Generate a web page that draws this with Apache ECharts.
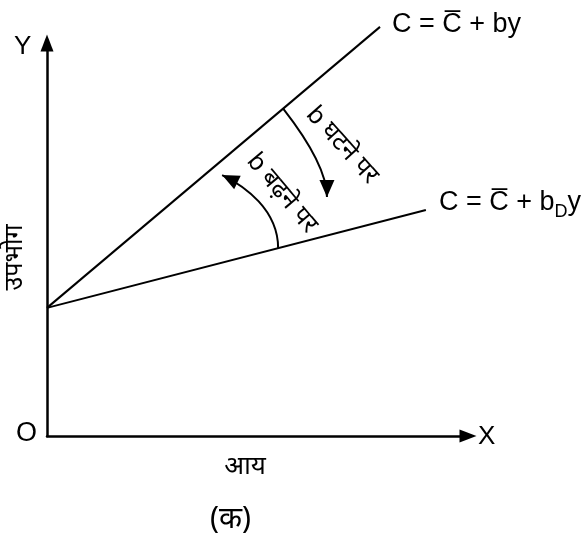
<!DOCTYPE html>
<html>
<head>
<meta charset="utf-8">
<title>उपभोग फलन</title>
<script src="https://cdn.jsdelivr.net/npm/echarts@6/dist/echarts.min.js"></script>
<style>html,body{margin:0;padding:0;background:#fff;}</style>
</head>
<body>
<div id="main" style="width:584px;height:536px;"></div>
<script type="text/javascript">
// values (x = आय, y = उपभोग, both on a 0-100 scale)
var lineHigh = [[0, 32.6], [79.1, 104.1]];   // C = C + by
var lineLow = [[0, 32.6], [90.0, 57.5]];     // C = C + bD y
// curved arrows, bezier control points in data units
var arcDown = [[56.1, 83.3], [66.5, 69.0], [66.5, 60.8]];
var arcUp = [[54.9, 47.8], [54.9, 57.5], [47.0, 63.6], [41.6, 66.4]];
var noteDown = [70.1, 74.0];
var noteUp = [55.8, 61.8];
var noteDownText = 'b घटने पर';
var noteUpText = 'b बढ़ने पर';

var latin = '"Liberation Sans", Arial, sans-serif';
var deva = '"Noto Sans", "DejaVu Sans", sans-serif';

var myChart = echarts.init(document.getElementById('main'));

// arrow head: tip at p, pointing along p - q
function arrowHead(p, q, len, half) {
    var dx = p[0] - q[0], dy = p[1] - q[1];
    var d = Math.sqrt(dx * dx + dy * dy) || 1;
    dx /= d; dy /= d;
    var bx = p[0] - dx * len, by = p[1] - dy * len;
    return {
        type: 'polygon',
        shape: {points: [p, [bx - dy * half, by + dx * half], [bx + dy * half, by - dx * half]]},
        style: {fill: '#000'}
    };
}

function renderNotes(params, api) {
    var a = arcDown.map(function (p) { return api.coord(p); });
    var b = arcUp.map(function (p) { return api.coord(p); });
    var t1 = api.coord(noteDown), t2 = api.coord(noteUp);
    var stroke = {stroke: '#000', lineWidth: 2, fill: null};
    return {
        type: 'group',
        children: [
            {type: 'bezierCurve', shape: {x1: a[0][0], y1: a[0][1], cpx1: a[1][0], cpy1: a[1][1], x2: a[2][0], y2: a[2][1]}, style: stroke},
            arrowHead(a[2], a[1], 17, 7.5),
            {type: 'bezierCurve', shape: {x1: b[0][0], y1: b[0][1], cpx1: b[1][0], cpy1: b[1][1], cpx2: b[2][0], cpy2: b[2][1], x2: b[3][0], y2: b[3][1]}, style: stroke},
            arrowHead(b[3], b[2], 17, 7.5),
            {type: 'text', x: t1[0], y: t1[1], rotation: -48 * Math.PI / 180,
                style: {text: noteDownText, fontSize: 25, fontFamily: deva, fill: '#000', align: 'center', verticalAlign: 'middle'}},
            {type: 'text', x: t2[0], y: t2[1], rotation: -50 * Math.PI / 180,
                style: {text: noteUpText, fontSize: 25, fontFamily: deva, fill: '#000', align: 'center', verticalAlign: 'middle'}}
        ]
    };
}

var eqRich = {
    m: {fontSize: 27, fontFamily: latin, color: '#000', lineHeight: 34},
    s: {fontSize: 18, fontFamily: latin, color: '#000', lineHeight: 36, verticalAlign: 'bottom'}
};

var option = {
    backgroundColor: '#fff',
    animation: false,
    grid: {left: 47, right: 116, top: 43, bottom: 100, containLabel: false, outerBoundsMode: 'none'},
    xAxis: {
        type: 'value', min: 0, max: 100,
        name: 'आय', nameLocation: 'middle', nameGap: 18, nameMoveOverlap: false,
        nameTextStyle: {fontSize: 26, fontFamily: deva, color: '#000', padding: [0, 25, 0, 0]},
        axisLine: {show: true, lineStyle: {color: '#000', width: 2.5}, symbol: ['none', 'triangle'], symbolSize: [13, 17]},
        axisTick: {show: false}, axisLabel: {show: false}, splitLine: {show: false}
    },
    yAxis: {
        type: 'value', min: 0, max: 100,
        name: 'उपभोग', nameLocation: 'middle', nameGap: 20, nameRotate: 90, nameMoveOverlap: false,
        nameTextStyle: {fontSize: 25, fontFamily: deva, color: '#000', padding: [0, 36, 0, 0]},
        axisLine: {show: true, lineStyle: {color: '#000', width: 2.5}, symbol: ['none', 'triangle'], symbolSize: [13, 17]},
        axisTick: {show: false}, axisLabel: {show: false}, splitLine: {show: false}
    },
    graphic: [
        {type: 'text', left: 14, top: 34, style: {text: 'Y', fontSize: 26, fontFamily: latin, fill: '#000'}},
        {type: 'text', left: 16, top: 420, style: {text: 'O', fontSize: 27, fontFamily: latin, fill: '#000'}},
        {type: 'text', left: 478, top: 424, style: {text: 'X', fontSize: 26, fontFamily: latin, fill: '#000'}},
        {type: 'text', left: 210, top: 504, style: {text: '(क)', fontSize: 30, fontFamily: deva, fill: '#000'}}
    ],
    series: [
        {
            type: 'line', data: lineHigh, clip: false, symbol: 'none', silent: true,
            lineStyle: {color: '#000', width: 2},
            endLabel: {show: true, distance: 12, offset: [0, -2], formatter: '{m|C = C\u0305 + by}', rich: eqRich}
        },
        {
            type: 'line', data: lineLow, clip: false, symbol: 'none', silent: true,
            lineStyle: {color: '#000', width: 2},
            endLabel: {show: true, distance: 13, offset: [0, -7], formatter: '{m|C = C\u0305 + b}{s|D}{m|y}', rich: eqRich}
        },
        {
            type: 'custom', data: [0], clip: false, silent: true,
            renderItem: renderNotes
        }
    ]
};

myChart.setOption(option);
</script>
</body>
</html>
